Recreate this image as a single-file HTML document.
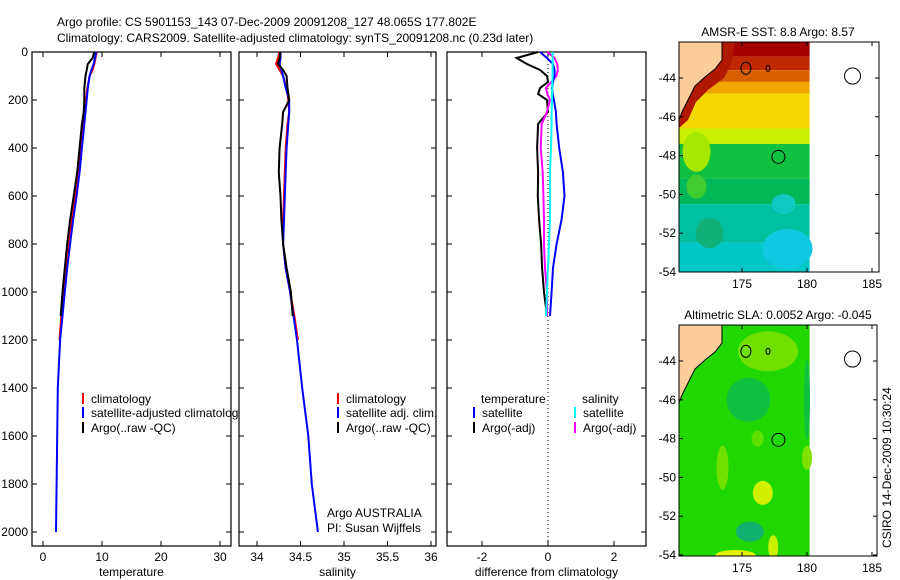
<!DOCTYPE html>
<html><head><meta charset="utf-8"><style>
html,body{margin:0;padding:0;background:#fff;}
svg{display:block;font-family:"Liberation Sans",sans-serif;font-size:12px;}
</style></head><body>
<svg id="fig" width="900" height="580" viewBox="0 0 900 580" xmlns="http://www.w3.org/2000/svg">
<rect width="900" height="580" fill="#fff"/>
<text x="57" y="26">Argo profile: CS 5901153_143 07-Dec-2009 20091208_127 48.065S 177.802E</text>
<text x="57" y="42">Climatology: CARS2009. Satellite-adjusted climatology: synTS_20091208.nc (0.23d later)</text>
<defs>
<clipPath id="c1"><rect x="32" y="52" width="207" height="494"/></clipPath>
<clipPath id="m1"><rect x="679" y="42" width="200" height="230"/></clipPath>
<clipPath id="m2"><rect x="679" y="325" width="198" height="231"/></clipPath>
</defs>
<g id="panels"></g>
<g id="maps"></g>
<text transform="translate(891,548) rotate(-90)">CSIRO 14-Dec-2009 10:30:24</text>
</svg>
<script>
// ---- profile data ----
const depths = [0,25,50,75,100,150,200,250,300,400,500,600,700,800,900,1000,1100,1200,1400,1600,1800,2000];
const tempSat = [9.0,8.8,8.6,8.2,7.9,7.6,7.4,7.2,7.0,6.6,6.2,5.7,5.1,4.6,4.1,3.7,3.3,2.9,2.5,2.4,2.3,2.2];
const tempClim = [9.1,8.9,8.7,8.4,7.9,7.5,7.3,7.1,6.8,6.4,6.0,5.5,4.9,4.4,3.9,3.5,3.1,2.8];
const tempArgo = [8.7,8.4,7.6,7.4,7.2,7.0,7.0,6.9,6.6,6.2,5.8,5.2,4.6,4.1,3.7,3.3,3.0];
const salSat = [34.27,34.27,34.26,34.28,34.30,34.33,34.37,34.37,34.36,34.34,34.33,34.32,34.31,34.30,34.33,34.38,34.42,34.46,34.52,34.59,34.63,34.70];
const salClim = [34.26,34.24,34.22,34.26,34.30,34.34,34.36,34.37,34.35,34.33,34.32,34.31,34.30,34.30,34.33,34.38,34.43,34.47];
const salArgo = [34.27,34.26,34.24,34.30,34.34,34.35,34.37,34.30,34.29,34.26,34.25,34.27,34.28,34.30,34.34,34.39,34.41];
const diffDepths = [0,25,50,75,100,125,150,175,200,250,300,400,500,600,700,800,900,1000,1100];
const dTempSat = [-0.24,-0.03,0.15,0.2,0.2,0.15,0.12,0.14,0.18,0.24,0.26,0.34,0.45,0.5,0.41,0.26,0.15,0.11,0.06];
const dTempArgo = [-0.3,-0.95,-0.64,-0.24,-0.03,0.0,-0.24,-0.3,-0.03,0.0,-0.3,-0.33,-0.3,-0.31,-0.27,-0.21,-0.18,-0.12,-0.03];
const dSalSat = [0.14,0.14,0.14,0.14,0.14,0.13,0.13,0.12,0.12,0.11,0.11,0.09,0.06,0.06,0.06,0.03,0.0,-0.03,-0.06];
const dSalArgo = [-0.03,0.2,0.28,0.3,0.25,0.1,-0.06,-0.02,0.06,-0.03,-0.19,-0.22,-0.16,-0.14,-0.12,-0.12,-0.09,-0.03,-0.03];
const yTicks = [0,200,400,600,800,1000,1200,1400,1600,1800,2000];
const tTicks = [0,10,20,30];
const sTicks = [34,34.5,35,35.5,36];
const dTicks = [-2,0,2];
const latTicks = [-44,-46,-48,-50,-52,-54];
const lonTicks = [175,180,185];

const NS='http://www.w3.org/2000/svg';
function mk(tag,attrs,parent){const e=document.createElementNS(NS,tag);for(const k in attrs)e.setAttribute(k,attrs[k]);parent.appendChild(e);return e;}
const yS = d => 52 + d*0.24;
const G = document.getElementById('panels');

function panel(name,x0,x1,xs,xticks,xlabel,showY){
  const g=mk('g',{},G);
  
  
  const r=mk('rect',{x:x0,y:52,width:x1-x0,height:494,fill:'#fff',stroke:'#000','stroke-width':1.2},g);
  
  
  xticks.forEach(v=>{
    const x=xs(v);
    mk('line',{x1:x,x2:x,y1:546,y2:541,stroke:'#000'},g);
    mk('line',{x1:x,x2:x,y1:52,y2:57,stroke:'#000'},g);
    const t=mk('text',{x:x,y:561,'text-anchor':'middle'},g);t.textContent=String(v);
    
    
  });
  yTicks.forEach(v=>{
    const y=yS(v);
    mk('line',{x1:x0,x2:x0+5,y1:y,y2:y,stroke:'#000'},g);
    mk('line',{x1:x1,x2:x1-5,y1:y,y2:y,stroke:'#000'},g);
    if(showY){const t=mk('text',{x:28,y:y+4,'text-anchor':'end'},g);t.textContent=String(v);
      
      }
  });
  const xl=mk('text',{x:(x0+x1)/2,y:576,'text-anchor':'middle'},g);xl.textContent=xlabel;
  
  
  return g;
}
function line(g,xs,vals,deps,color,name,w){
  const pts=vals.map((v,i)=>xs(v).toFixed(1)+','+yS(deps[i]).toFixed(1)).join(' ');
  const p=mk('polyline',{points:pts,fill:'none',stroke:color,'stroke-width':w||2},g);
  
  
}
function legend(g,x,y,color,label,name){
  mk('rect',{x:x,y:y-10,width:2,height:11,fill:color},g);
  const t=mk('text',{x:x+9,y:y},g);t.textContent=label;
  
  
}
// temperature
const xT=v=>43+v*5.9;
const g1=panel('temperature',32,231,xT,tTicks,'temperature',true);
line(g1,xT,tempClim,depths,'#f00','temp-climatology-line');
line(g1,xT,tempSat,depths,'#00f','temp-satellite-line');
line(g1,xT,tempArgo,depths,'#000','temp-argo-line');
const lg1=mk('g',{'clip-path':'url(#c1)'},g1);
legend(lg1,82,403,'#f00','climatology','legend-climatology');
legend(lg1,82,417,'#00f','satellite-adjusted climatology','legend-satellite-adjusted');
legend(lg1,82,432,'#000','Argo(..raw -QC)','legend-argo');
// salinity
const xSa=v=>257+(v-34)*87;
const g2=panel('salinity',239,436,xSa,sTicks,'salinity',false);
line(g2,xSa,salClim,depths,'#f00','sal-climatology-line');
line(g2,xSa,salSat,depths,'#00f','sal-satellite-line');
line(g2,xSa,salArgo,depths,'#000','sal-argo-line');
legend(g2,337,403,'#f00','climatology','legend-sal-climatology');
legend(g2,337,417,'#00f','satellite adj. clim.','legend-sal-satellite');
legend(g2,337,432,'#000','Argo(..raw -QC)','legend-sal-argo');
let t=mk('text',{x:327,y:517},g2);t.textContent='Argo AUSTRALIA';


t=mk('text',{x:327,y:532},g2);t.textContent='PI: Susan Wijffels';


// difference
const xD=v=>548+v*33;
const g3=panel('difference',447,646,xD,dTicks,'difference from climatology',false);
mk('line',{x1:xD(0),x2:xD(0),y1:52,y2:546,stroke:'#000','stroke-dasharray':'1,3'},g3);
line(g3,xD,dTempArgo,diffDepths,'#000','diff-temp-argo-line');
line(g3,xD,dSalArgo,diffDepths,'#f0f','diff-sal-argo-line');
line(g3,xD,dTempSat,diffDepths,'#00f','diff-temp-satellite-line');
line(g3,xD,dSalSat,diffDepths,'#0ff','diff-sal-satellite-line');
t=mk('text',{x:481,y:403},g3);t.textContent='temperature';


t=mk('text',{x:582,y:403},g3);t.textContent='salinity';


legend(g3,473,417,'#00f','satellite','legend-diff-temp-satellite');
legend(g3,473,432,'#000','Argo(-adj)','legend-diff-temp-argo');
legend(g3,574,417,'#0ff','satellite','legend-diff-sal-satellite');
legend(g3,574,432,'#f0f','Argo(-adj)','legend-diff-sal-argo');

// ---- maps ----
const M=document.getElementById('maps');
function map(name,top,bottom,right,title,bands,patches,clip,coastStrip){
  const g=mk('g',{},M);
  
  
  const lonX=v=>742+(v-175)*13;
  const latY=v=>top+36+(-44-v)*19.4;
  const inner=mk('g',{'clip-path':'url(#'+clip+')'},g);
  bands.forEach(b=>{mk('rect',{x:679,y:latY(b[0]),width:lonX(180.2)-679,height:latY(b[1])-latY(b[0]),fill:b[2]},inner);});
  patches.forEach(p=>{mk('ellipse',{cx:lonX(p[0]),cy:latY(p[1]),rx:p[2],ry:p[3],fill:p[4]},inner);});
  if(coastStrip){
    mk('polygon',{points:`722,${top} 735,${top} 732,${top+20} 724,${top+36} 708,${top+48} 696,${top+60} 688,${top+78} 679,${top+86} 679,${top+76} 682,${top+70} 688,${top+58} 695,${top+44} 705,${top+35} 715,${top+27} 722,${top+18}`,fill:'#b01800'},inner);
    mk('rect',{x:679,y:top,width:13,height:18,fill:'#a40000'},inner);
  }
  const land=mk('polygon',{points:`679,${top} 722,${top} 722,${top+18} 715,${top+27} 705,${top+35} 695,${top+44} 688,${top+58} 682,${top+70} 679,${top+78}`,fill:'#fccc99',stroke:'#000','stroke-width':1},inner);
  
  
  mk('ellipse',{cx:lonX(175.3),cy:latY(-43.5),rx:5,ry:6,fill:'none',stroke:'#000'},inner);
  mk('ellipse',{cx:lonX(177),cy:latY(-43.5),rx:2,ry:3,fill:'none',stroke:'#000'},inner);
  mk('ellipse',{cx:lonX(183.5),cy:latY(-43.9),rx:8,ry:8,fill:'none',stroke:'#000'},inner);
  const ac=mk('circle',{cx:lonX(177.8),cy:latY(-48.065),r:6.5,fill:'none',stroke:'#000'},inner);
  
  
  mk('rect',{x:679,y:top,width:right-679,height:bottom-top,fill:'none',stroke:'#000'},g);
  lonTicks.forEach(v=>{const x=lonX(v);
    mk('line',{x1:x,x2:x,y1:bottom,y2:bottom-4,stroke:'#000'},g);
    mk('line',{x1:x,x2:x,y1:top,y2:top+4,stroke:'#000'},g);
    const tt=mk('text',{x:x,y:bottom+16,'text-anchor':'middle'},g);tt.textContent=String(v);
    
    });
  latTicks.forEach(v=>{const y=latY(v);
    mk('line',{x1:679,x2:683,y1:y,y2:y,stroke:'#000'},g);
    mk('line',{x1:right,x2:right-4,y1:y,y2:y,stroke:'#000'},g);
    const tt=mk('text',{x:676,y:y+4,'text-anchor':'end'},g);tt.textContent=String(v);
    
    });
  const tt=mk('text',{x:778,y:top-6,'text-anchor':'middle'},g);tt.textContent=title;
  
  
}
const sstBands=[[-41,-42.9,'#a40000'],[-42.9,-43.6,'#c02800'],[-43.6,-44.2,'#d86000'],[-44.2,-44.8,'#f0a800'],[-44.8,-46.6,'#f4d800'],[-46.6,-47.4,'#c8f000'],[-47.4,-49.2,'#10c040'],[-49.2,-50.5,'#00b858'],[-50.5,-52.5,'#00c0a0'],[-52.5,-55,'#00c8c8']];
const sstPatches=[[171.5,-47.8,14,20,'#a8e800'],[171.5,-49.6,10,12,'#40cc30'],[178.5,-52.8,25,20,'#10c8e0'],[172.5,-52,14,15,'#10b078'],[178.2,-50.5,12,10,'#10c8c0']];
const slaBands=[[-41,-55,'#20d800']];
const slaPatches=[[177,-43.5,30,20,'#70e000'],[175.5,-46,22,22,'#10c040'],[176.6,-50.8,10,12,'#d0f000'],[175.6,-52.8,14,10,'#10b070'],[174.5,-54,20,5,'#e0f000'],[177.4,-53.6,5,12,'#c8f000'],[173.5,-49.5,6,22,'#70e000'],[180,-49,5,12,'#80e000'],[180,-46,3,40,'#10c040'],[176.2,-48,6,8,'#60e000']];
map('sst-map',42,272,879,'AMSR-E SST: 8.8 Argo: 8.57',sstBands,sstPatches,'m1',true);
map('sla-map',325,556,877,'Altimetric SLA: 0.0052 Argo: -0.045',slaBands,slaPatches,'m2',false);
</script>
</body></html>
